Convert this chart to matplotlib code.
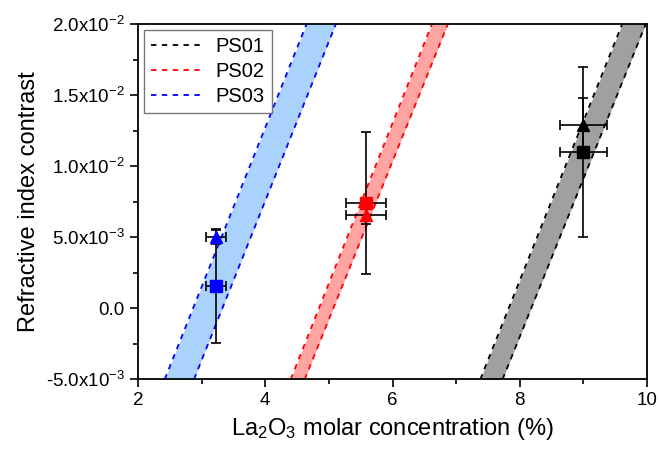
import numpy as np
import matplotlib
matplotlib.use('Agg')
import matplotlib.pyplot as plt
from matplotlib.ticker import FuncFormatter, MultipleLocator

plt.rcParams['font.family'] = ['Liberation Sans', 'DejaVu Sans']
plt.rcParams['mathtext.fontset'] = 'custom'
plt.rcParams['mathtext.rm'] = 'Liberation Sans'
plt.rcParams['mathtext.it'] = 'Liberation Sans:italic'

# band edges: x position where each dashed line meets y=-0.005 and y=0.02
band_y = [-0.005, 0.02]
names = ['PS01', 'PS02', 'PS03']
line_colors = ['black', 'red', 'blue']
fill_colors = ['#a0a0a0', '#ffa3a3', '#aad2fa']
band_left = [[7.38, 9.61], [4.40, 6.62], [2.42, 4.65]]
band_right = [[7.73, 9.98], [4.62, 6.87], [2.88, 5.11]]

# measured points (square, triangle) per sample
pt_x = [9.0, 5.58, 3.23]
pt_xerr = [0.37, 0.31, 0.16]
sq_y = [0.0110, 0.0074, 0.00155]
sq_yerr = [0.0060, 0.0050, 0.0040]
tri_y = [0.0129, 0.00655, 0.0050]
tri_yerr = [0.0019, 0.0006, 0.0005]

fig = plt.figure(figsize=(6.59, 4.55), dpi=100)
ax = fig.add_axes([0.2094, 0.1664, 0.7724, 0.7809])

for i in range(3):
    ax.fill_betweenx(band_y, band_left[i], band_right[i], color=fill_colors[i], lw=0, zorder=1)
    ax.plot(band_left[i], band_y, ls=(0, (3, 3)), color=line_colors[i], lw=1.3, zorder=2, label=names[i])
    ax.plot(band_right[i], band_y, ls=(0, (3, 3)), color=line_colors[i], lw=1.3, zorder=2)

for i in range(3):
    ax.errorbar(pt_x[i], sq_y[i], xerr=pt_xerr[i], yerr=sq_yerr[i], fmt='s', ms=8,
                mfc=line_colors[i], mec=line_colors[i], ecolor='black', elinewidth=1.2,
                capsize=3.5, capthick=1.2, zorder=4)
    ax.errorbar(pt_x[i], tri_y[i], xerr=pt_xerr[i], yerr=tri_yerr[i], fmt='^', ms=9,
                mfc=line_colors[i], mec=line_colors[i], ecolor='black', elinewidth=1.2,
                capsize=3.5, capthick=1.2, zorder=4)

ax.set_xlim(2, 10)
ax.set_ylim(-0.005, 0.02)
ax.xaxis.set_major_locator(MultipleLocator(2))
ax.xaxis.set_minor_locator(MultipleLocator(1))
ax.yaxis.set_major_locator(MultipleLocator(0.005))
ax.yaxis.set_minor_locator(MultipleLocator(0.0025))


def fmt(v, pos):
    if abs(v) < 1e-12:
        return '0.0'
    e = int(np.floor(np.log10(abs(v))))
    m = v / 10 ** e
    return '%.1fx10$^{%d}$' % (m, e)


ax.yaxis.set_major_formatter(FuncFormatter(fmt))
ax.tick_params(which='major', direction='out', length=6, width=1.2, labelsize=13.5)
ax.tick_params(which='minor', direction='out', length=3.5, width=1.2)
ax.tick_params(top=False, right=False, which='both')
for s in ax.spines.values():
    s.set_linewidth(1.3)

ax.set_xlabel('La$_2$O$_3$ molar concentration (%)', fontsize=17, labelpad=5)
ax.set_ylabel('Refractive index contrast', fontsize=17, labelpad=4)

leg = ax.legend(loc='upper left', fontsize=14.5, frameon=True, fancybox=False,
                edgecolor='#555555', handlelength=2.7, handletextpad=0.5,
                borderaxespad=0.3, labelspacing=0.3, borderpad=0.35)
leg.get_frame().set_linewidth(1.0)

fig.savefig('out.png', dpi=100)
